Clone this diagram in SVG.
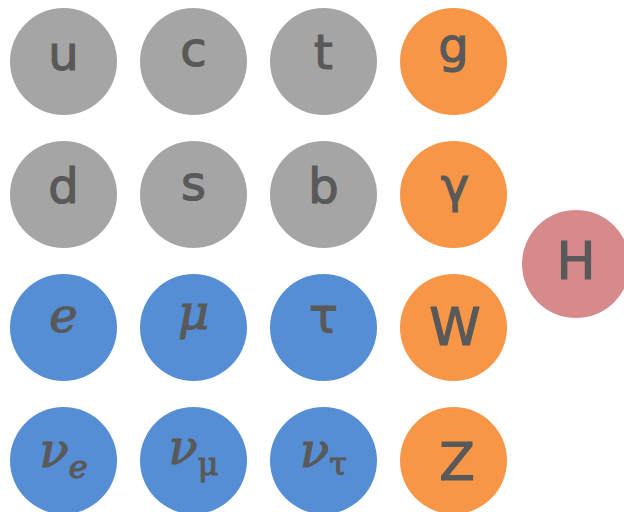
<svg xmlns="http://www.w3.org/2000/svg" width="624" height="512" viewBox="0 0 624 512">
<style>
.q{fill:#A5A5A5}.b{fill:#558ED5}.o{fill:#F79646}.h{fill:#D68A8A}
text{font-family:"DejaVu Sans","Liberation Sans",sans-serif;font-size:48px;fill:#595959;stroke:#595959;stroke-width:1.2;text-anchor:middle}
.i{font-style:italic;font-family:"DejaVu Serif","Liberation Serif",serif}
.s{font-size:32px}
.L{font-size:52px}
</style>
<rect width="624" height="512" fill="#FFFFFF"/>
<g id="u"><circle class="q" cx="63.5" cy="61.5" r="53.5"/><text x="63.5" y="70">u</text></g>
<g id="c"><circle class="q" cx="193.5" cy="61.5" r="53.5"/><text x="193.5" y="66">c</text></g>
<g id="t"><circle class="q" cx="323.5" cy="61.5" r="53.5"/><text x="323.5" y="69">t</text></g>
<g id="g"><circle class="o" cx="453.5" cy="61.5" r="53.5"/><text x="453.5" y="62">g</text></g>
<g id="d"><circle class="q" cx="63.5" cy="194.5" r="53.5"/><text x="63.5" y="203">d</text></g>
<g id="s"><circle class="q" cx="193.5" cy="194.5" r="53.5"/><text x="193.5" y="200">s</text></g>
<g id="b"><circle class="q" cx="323.5" cy="194.5" r="53.5"/><text x="323.5" y="203">b</text></g>
<g id="gamma"><circle class="o" cx="453.5" cy="194.5" r="53.5"/><text x="455" y="202">γ</text></g>
<g id="e"><circle class="b" cx="63.5" cy="327.5" r="53.5"/><text class="i" x="63.5" y="332">e</text></g>
<g id="mu"><circle class="b" cx="193.5" cy="327.5" r="53.5"/><text class="i" x="193.5" y="329">μ</text></g>
<g id="tau"><circle class="b" cx="323.5" cy="327.5" r="53.5"/><text x="323.5" y="332">τ</text></g>
<g id="W"><circle class="o" cx="453.5" cy="327.5" r="53.5"/><text class="L" x="455" y="345">W</text></g>
<g id="nue"><circle class="b" cx="63.5" cy="460.5" r="53.5"/><text class="i" x="63.5" y="467">ν<tspan class="s" dy="11">e</tspan></text></g>
<g id="numu"><circle class="b" cx="193.5" cy="460.5" r="53.5"/><text class="i" x="193.5" y="464">ν<tspan class="s" dy="11" font-style="normal">μ</tspan></text></g>
<g id="nutau"><circle class="b" cx="323.5" cy="460.5" r="53.5"/><text class="i" x="323.5" y="467">ν<tspan class="s" dy="8" font-style="normal">τ</tspan></text></g>
<g id="Z"><circle class="o" cx="453.5" cy="460.5" r="53.5"/><text class="L" x="457" y="480">Z</text></g>
<g id="H"><circle class="h" cx="576" cy="264" r="54"/><text class="L" x="576" y="279">H</text></g>
<g id="connectors"/>
</svg>
